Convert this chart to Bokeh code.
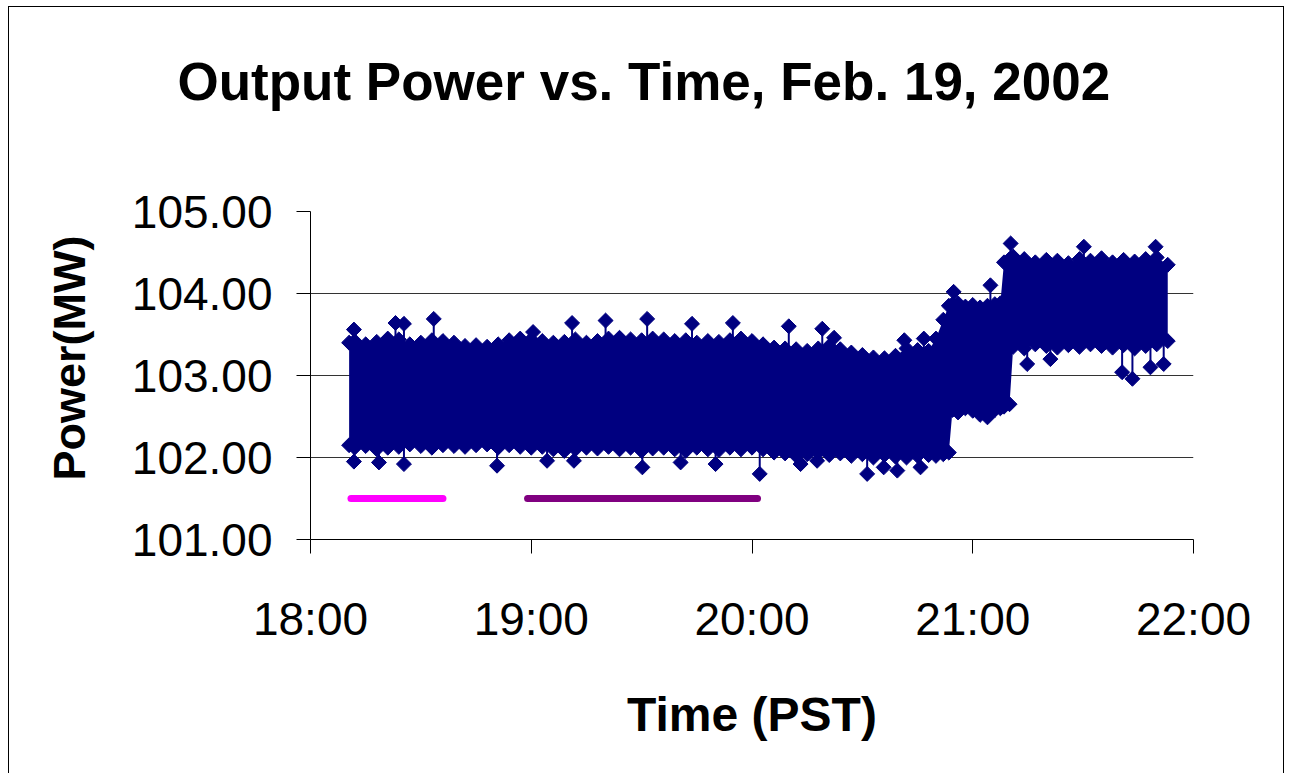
import numpy as np
from bokeh.plotting import figure
from bokeh.models import Range1d, FixedTicker, PrintfTickFormatter, Title, InlineStyleSheet
from bokeh.embed import file_html
from bokeh.resources import INLINE

# ---------------- data ----------------
title_text = "Output Power vs. Time, Feb. 19, 2002"
x_label = "Time (PST)"
y_label = "Power(MW)"

# x positions are minutes after 18:00
x_tick_minutes = [0, 60, 120, 180, 240]
x_tick_labels = ["18:00", "19:00", "20:00", "21:00", "22:00"]
y_ticks = [101, 102, 103, 104, 105]

# envelope of the dense output-power record (upper / lower edge of the band)
band_t = [10.5, 12, 15, 18, 21, 24, 27, 30, 33, 36, 39, 42, 45, 48, 51, 54, 57, 60,
          63, 66, 69, 72, 75, 78, 81, 84, 87, 90, 93, 96, 99, 102, 105, 108, 111, 114, 117, 120,
          123, 126, 129, 132, 135, 138, 141, 144, 147, 150, 153, 156, 159, 162, 165, 168, 170, 172, 173.5,
          174.5, 176, 178, 180, 182, 184, 186, 187.5,
          188.5, 190, 191, 194, 197, 200, 203, 206, 209, 212, 215, 218, 221, 224, 227, 230, 233]
band_hi = [103.40, 103.42, 103.38, 103.41, 103.45, 103.44, 103.38, 103.40, 103.43, 103.42, 103.40, 103.36, 103.37, 103.35, 103.38, 103.43, 103.45, 103.44,
           103.42, 103.40, 103.41, 103.44, 103.40, 103.42, 103.45, 103.46, 103.44, 103.43, 103.45, 103.44, 103.42, 103.43, 103.40, 103.42, 103.41, 103.43, 103.45, 103.42,
           103.38, 103.34, 103.33, 103.32, 103.30, 103.33, 103.36, 103.32, 103.28, 103.25, 103.22, 103.21, 103.24, 103.33, 103.31, 103.30, 103.45, 103.68, 103.85,
           103.87, 103.88, 103.84, 103.86, 103.83, 103.85, 103.87, 103.88,
           104.38, 104.42, 104.45, 104.42, 104.38, 104.41, 104.40, 104.37, 104.42, 104.40, 104.43, 104.38, 104.41, 104.39, 104.42, 104.44, 104.35]
band_lo = [102.15, 102.12, 102.14, 102.10, 102.12, 102.13, 102.16, 102.14, 102.12, 102.15, 102.14, 102.13, 102.15, 102.16, 102.12, 102.15, 102.13, 102.12,
           102.13, 102.10, 102.08, 102.10, 102.12, 102.11, 102.13, 102.10, 102.12, 102.08, 102.11, 102.12, 102.10, 102.08, 102.12, 102.10, 102.09, 102.12, 102.10, 102.12,
           102.10, 102.06, 102.05, 102.02, 102.04, 102.06, 102.03, 102.05, 102.02, 102.04, 102.00, 102.03, 102.01, 102.00, 102.02, 102.03, 102.02, 102.04, 102.06,
           102.58, 102.55, 102.60, 102.57, 102.52, 102.55, 102.58, 102.60,
           102.62, 102.65, 103.35, 103.33, 103.38, 103.36, 103.34, 103.37, 103.35, 103.38, 103.36, 103.34, 103.37, 103.33, 103.36, 103.38, 103.42]

# individual readings that stick out of the band
out_t = [11.8, 23.1, 25.4, 33.5, 60.5, 71.1, 80.2, 91.5, 103.7, 114.8, 130.0, 139.1, 142.3, 161.4, 166.7,
         174.8, 184.8, 190.3, 210.2, 229.7,
         11.8, 18.6, 25.4, 50.7, 64.3, 71.6, 90.2, 100.6, 110.1, 122.1, 133.2, 137.7, 151.3, 155.8, 159.5, 165.8,
         184.0, 194.8, 201.1, 220.6, 223.4, 228.3, 231.9]
out_v = [103.56, 103.64, 103.63, 103.69, 103.53, 103.64, 103.67, 103.69, 103.63, 103.64, 103.60, 103.57, 103.46, 103.43, 103.45,
         104.02, 104.10, 104.61, 104.57, 104.57,
         101.95, 101.94, 101.92, 101.90, 101.96, 101.96, 101.88, 101.94, 101.92, 101.80, 101.92, 101.96, 101.80, 101.88, 101.84, 101.88,
         102.49, 103.14, 103.20, 103.04, 102.96, 103.10, 103.14]

# marker bars at 101.5 MW
pink_t = [11, 36]
purple_t = [59, 121.5]
bar_level = [101.5, 101.5]

# ---------------- figure ----------------
FONT = "Liberation Sans"
NAVY = "#000080"

p = figure(width=1291, height=773,
           x_range=Range1d(0, 240), y_range=Range1d(101, 105),
           output_backend="svg", toolbar_location=None,
           min_border_left=310, min_border_right=98,
           min_border_top=211, min_border_bottom=234)
# chart-area border (left, top, right edges)
p.stylesheets = [InlineStyleSheet(css=(
    ":host{position:relative;}"
    ":host::after{content:'';position:absolute;left:8px;top:6px;right:7px;bottom:0;"
    "border:1px solid #000;border-bottom:none;pointer-events:none;z-index:100;}"))]
p.outline_line_color = None
p.background_fill_color = "white"
p.border_fill_color = "white"

# main title (outermost) plus a blank spacer title nearer the frame
p.title.text = title_text
p.title.text_font = FONT
p.title.text_font_size = "53px"
p.title.text_font_style = "bold"
p.title.text_color = "black"
p.title.align = "left"
p.title.offset = -133
p.title.standoff = 0
p.add_layout(Title(text=" ", text_font=FONT, text_font_size="88px", standoff=0), "above")

# band
p.varea(x=band_t, y1=band_lo, y2=band_hi, fill_color=NAVY)
p.scatter(band_t, band_hi, marker="square", angle=np.pi / 4, size=10.6,
          fill_color=NAVY, line_color=NAVY)
p.scatter(band_t, band_lo, marker="square", angle=np.pi / 4, size=10.6,
          fill_color=NAVY, line_color=NAVY)

# spikes to outlying readings
mid = np.interp(out_t, band_t, (np.array(band_hi) + np.array(band_lo)) / 2)
p.segment(x0=out_t, y0=out_v, x1=out_t, y1=mid, line_color=NAVY, line_width=2)
p.scatter(out_t, out_v, marker="square", angle=np.pi / 4, size=10.6,
          fill_color=NAVY, line_color=NAVY)

# bars
p.line(pink_t, bar_level, line_color="#FF00FF", line_width=7, line_cap="round")
p.line(purple_t, bar_level, line_color="#800080", line_width=7, line_cap="round")

# axes
xa = p.xaxis[0]
xa.ticker = FixedTicker(ticks=x_tick_minutes)
xa.major_label_overrides = {m: l for m, l in zip(x_tick_minutes, x_tick_labels)}
ya = p.yaxis[0]
ya.ticker = FixedTicker(ticks=y_ticks)
ya.formatter = PrintfTickFormatter(format="%.2f")

for ax in (xa, ya):
    ax.major_label_text_font = FONT
    ax.major_label_text_font_size = "46px"
    ax.major_label_text_color = "black"
    ax.axis_line_color = "black"
    ax.axis_line_width = 1
    ax.major_tick_line_color = "black"
    ax.major_tick_in = 0
    ax.major_tick_out = 14
    ax.minor_tick_line_color = None
    ax.axis_label_text_font = FONT
    ax.axis_label_text_font_style = "bold"
    ax.axis_label_text_color = "black"

xa.axis_label = x_label
xa.axis_label_text_font_size = "48px"
xa.major_label_standoff = 39
xa.axis_label_standoff = 40

ya.major_label_standoff = 24

# y-axis title, placed as a side title so it can sit slightly above centre
p.add_layout(Title(text=y_label, align="left", offset=59, standoff=67,
                   text_font=FONT, text_font_size="45px",
                   text_font_style="bold", text_color="black"), "left")

p.xgrid.grid_line_color = None
p.ygrid.ticker = FixedTicker(ticks=[102, 103, 104])
p.ygrid.grid_line_color = "#333333"
p.ygrid.grid_line_width = 1

open("out.html", "w").write(file_html(p, INLINE))
